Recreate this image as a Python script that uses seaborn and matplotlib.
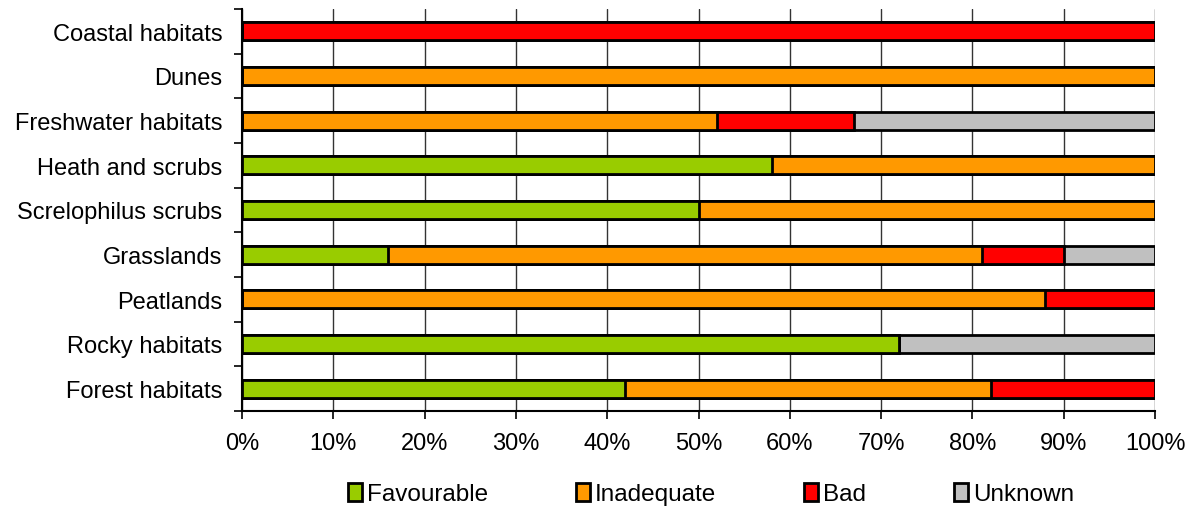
import matplotlib
matplotlib.use("Agg")
import matplotlib.pyplot as plt
from matplotlib.patches import Patch
from matplotlib.ticker import FixedLocator
import numpy as np
import pandas as pd
import seaborn as sns

habitats = ["Coastal habitats", "Dunes", "Freshwater habitats", "Heath and scrubs",
            "Screlophilus scrubs", "Grasslands", "Peatlands", "Rocky habitats", "Forest habitats"]
favourable = [0, 0, 0, 58, 50, 16, 0, 72, 42]
inadequate = [0, 100, 52, 42, 50, 65, 88, 0, 40]
bad = [100, 0, 15, 0, 0, 9, 12, 0, 18]
unknown = [0, 0, 33, 0, 0, 10, 0, 28, 0]

series_names = ["Favourable", "Inadequate", "Bad", "Unknown"]
series_colors = ["#99CC00", "#FF9900", "#FF0000", "#C0C0C0"]
x_ticks = list(range(0, 101, 10))
x_labels = [f"{t}%" for t in x_ticks]

sns.set_theme(style="white")
plt.rcParams["font.family"] = ["Liberation Sans", "DejaVu Sans"]
plt.rcParams["text.color"] = "black"
plt.rcParams["xtick.color"] = "black"
plt.rcParams["ytick.color"] = "black"

df = pd.DataFrame({"habitat": habitats, "Favourable": favourable, "Inadequate": inadequate,
                   "Bad": bad, "Unknown": unknown})
cum = df[series_names].cumsum(axis=1)
cum["habitat"] = df["habitat"]

fig = plt.figure(figsize=(11.92, 5.10), dpi=100)
ax = fig.add_axes([242 / 1192, 1 - 412 / 510, (1155 - 242) / 1192, (412 - 10) / 510])

for name, color in reversed(list(zip(series_names, series_colors))):
    sns.barplot(data=cum, x=name, y="habitat", order=habitats, orient="h", color=color,
                saturation=1, width=0.4, edgecolor="black", linewidth=2.0, ax=ax, zorder=3)

ax.set_xlim(0, 100)
ax.set_ylim(len(habitats) - 0.5, -0.5)
ax.set_xlabel("")
ax.set_ylabel("")
ax.set_xticks(x_ticks)
ax.set_xticklabels(x_labels, fontsize=17)
ax.tick_params(axis="x", direction="out", length=6, width=1.2, color="black", pad=9, bottom=True,
               labelcolor="black")
ax.tick_params(axis="y", which="major", length=0, labelsize=17, pad=14, labelcolor="black")
ax.yaxis.set_minor_locator(FixedLocator(np.arange(-0.5, len(habitats), 1.0)))
ax.tick_params(axis="y", which="minor", direction="out", length=6, width=1.2, color="black", left=True)

ax.grid(axis="x", color="#333333", linewidth=1.0, zorder=0)
ax.grid(axis="y", visible=False)
ax.set_axisbelow(True)
for side in ["top", "right"]:
    ax.spines[side].set_visible(False)
for side in ["left", "bottom"]:
    ax.spines[side].set_color("black")
    ax.spines[side].set_linewidth(1.5)

handles = [Patch(facecolor=c, edgecolor="black", linewidth=2.0) for c in series_colors]
leg = fig.legend(handles, series_names, loc="center", bbox_to_anchor=(0.5965, 1 - 495 / 510), ncol=4,
                 frameon=False, fontsize=17.5, handlelength=0.6, handleheight=0.75, handletextpad=0.2,
                 columnspacing=3.6)
for t in leg.get_texts():
    t.set_color("black")

fig.savefig("out.png", dpi=100)
